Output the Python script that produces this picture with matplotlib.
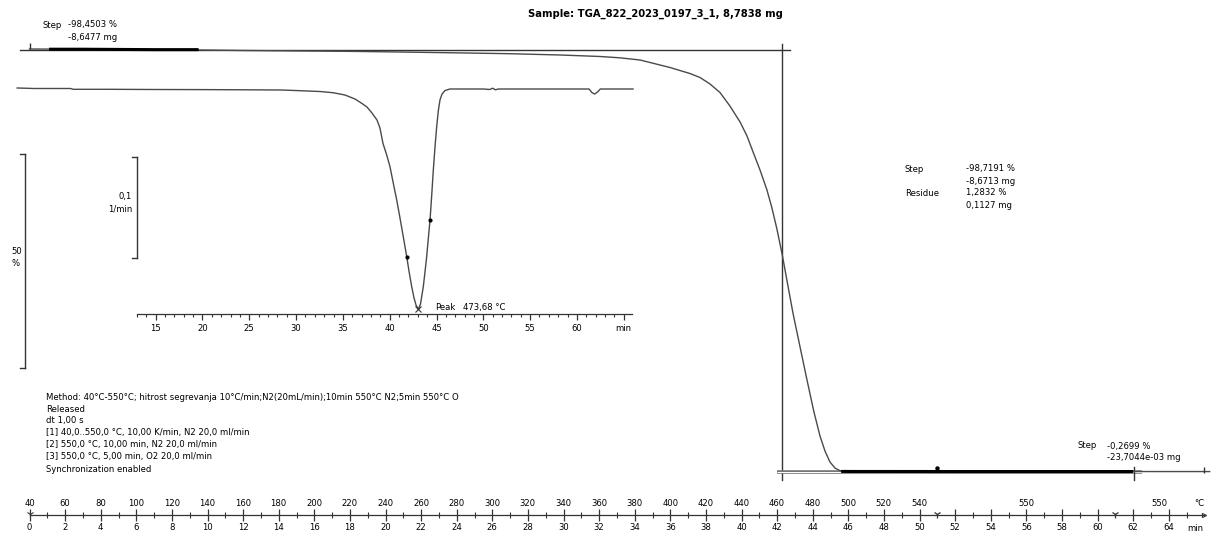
import matplotlib
matplotlib.use("Agg")
import matplotlib.pyplot as plt
from matplotlib.ticker import FixedLocator, FixedFormatter

W, H = 1216, 536

# ---------------- data ----------------
tga_time = [0.0, 1.0, 3.0, 5.0, 7.0, 9.6, 12.0, 15.0, 18.0, 20.8, 24.0, 27.0, 29.8,
            32.05, 33.17, 34.30, 34.86, 35.42, 35.98, 36.54, 37.10, 37.67, 38.23, 38.79,
            39.35, 39.92, 40.31, 40.65, 41.04, 41.43, 41.71, 41.99, 42.28, 42.56, 42.89,
            43.29, 43.68, 44.07, 44.41, 44.69, 44.97, 45.25, 45.53, 45.81, 46.3, 48.0,
            52.0, 56.0, 60.0, 64.0, 66.3]
tga_mass = [100.0, 99.98, 99.95, 99.9, 99.85, 99.77, 99.65, 99.55, 99.45, 99.3, 99.1,
            98.9, 98.6, 98.25, 97.94, 97.43, 96.85, 96.26, 95.68, 94.98, 94.28, 93.34,
            91.82, 89.84, 86.68, 82.94, 79.67, 75.93, 71.73, 67.06, 62.85, 57.94, 52.10,
            45.79, 38.32, 30.37, 22.66, 15.19, 9.58, 6.07, 3.50, 2.10, 1.47, 1.30, 1.29,
            1.29, 1.28, 1.28, 1.28, 1.27, 1.27]

dtg_time = [0.2, 2.0, 5.9, 6.2, 10.0, 15.0, 20.0, 25.0, 28.5, 30.42, 32.55, 33.94,
            35.22, 36.29, 37.04, 37.57, 38.11, 38.64, 38.96, 39.28, 39.68, 40.03, 40.38,
            40.75, 41.10, 41.45, 41.82, 42.06, 42.35, 42.60, 42.81, 43.06, 43.29, 43.59,
            43.77, 43.95, 44.12, 44.31, 44.49, 44.66, 44.84, 45.02, 45.19, 45.37, 45.59,
            45.91, 46.44, 50.0, 50.7, 51.0, 51.3, 51.6, 55.0, 58.0, 61.3, 61.6, 61.9,
            62.2, 62.5, 66.0]
dtg_rate = [0.001, 0.0005, 0.0005, -0.0003, -0.0003, -0.0005, -0.0006, -0.0008, -0.001,
            -0.00168, -0.00248, -0.00366, -0.00594, -0.0099, -0.01436, -0.01782, -0.0238,
            -0.0307, -0.0386, -0.0538, -0.0653, -0.0769, -0.0931, -0.1099, -0.1277,
            -0.1462, -0.1661, -0.1802, -0.1957, -0.2069, -0.2139, -0.2181, -0.2129,
            -0.1957, -0.1812, -0.1661, -0.1485, -0.1297, -0.1050, -0.0802, -0.0574,
            -0.0373, -0.0218, -0.0109, -0.0050, -0.0015, 0.0, 0.0, -0.0005, 0.0008,
            -0.0008, 0.0, 0.0, 0.0, 0.0, -0.0035, -0.005, -0.003, 0.0, 0.0]

dtg_mark_time = [41.82, 44.31]
dtg_mark_rate = [-0.1661, -0.1297]
peak_time, peak_rate = 43.06, -0.2181

step1_range = [1.1, 9.5]
step2_range = [45.6, 62.0]
step1_level = 99.77
residue_level = 1.28
eval_time = 42.26
step2_end = 62.05
segment_marks = [51.0, 61.0]

time_ticks = [0, 2, 4, 6, 8, 10, 12, 14, 16, 18, 20, 22, 24, 26, 28, 30, 32, 34, 36,
              38, 40, 42, 44, 46, 48, 50, 52, 54, 56, 58, 60, 62, 64]
time_labels = [str(t) for t in time_ticks]
temp_ticks = [0, 2, 4, 6, 8, 10, 12, 14, 16, 18, 20, 22, 24, 26, 28, 30, 32, 34, 36,
              38, 40, 42, 44, 46, 48, 50, 56, 63.5]
temp_labels = ["40", "60", "80", "100", "120", "140", "160", "180", "200", "220", "240",
               "260", "280", "300", "320", "340", "360", "380", "400", "420", "440",
               "460", "480", "500", "520", "540", "550", "550"]
inset_ticks = [15, 20, 25, 30, 35, 40, 45, 50, 55, 60, 65]
inset_labels = ["15", "20", "25", "30", "35", "40", "45", "50", "55", "60", "min"]

method_lines = [
    "Method: 40°C-550°C; hitrost segrevanja 10°C/min;N2(20mL/min);10min 550°C N2;5min 550°C O",
    "Released",
    "dt 1,00 s",
    "[1] 40,0..550,0 °C, 10,00 K/min, N2 20,0 ml/min",
    "[2] 550,0 °C, 10,00 min, N2 20,0 ml/min",
    "[3] 550,0 °C, 5,00 min, O2 20,0 ml/min",
    "Synchronization enabled",
]

# ---------------- layout ----------------
FS = 6.1
CURVE = "#4a4a4a"
LINE = "#333333"
plt.rcParams["font.family"] = ["DejaVu Sans"]

fig = plt.figure(figsize=(W / 100, H / 100), dpi=100)
fig.patch.set_facecolor("white")


def fx(px):
    return px / W


def fy(py):
    return 1 - py / H


def ftext(px, py, s, **kw):
    kw.setdefault("fontsize", FS)
    kw.setdefault("va", "center")
    fig.text(fx(px), fy(py), s, **kw)


# main TGA axes: px = 29.5 + 17.8 t ; py = 49 + (100 - p) * 4.28
ax = fig.add_axes([0, 0, 1, 1])
ax.patch.set_alpha(0)
ax.set_xlim((0 - 29.5) / 17.8, (W - 29.5) / 17.8)
ax.set_ylim(100 - (H - 49) / 4.28, 100 + 49 / 4.28)
for s in ["top", "left", "right"]:
    ax.spines[s].set_visible(False)
ax.spines["bottom"].set_position(("axes", fy(515)))
ax.spines["bottom"].set_bounds(0, 66.0)
ax.spines["bottom"].set_color(LINE)
ax.spines["bottom"].set_linewidth(0.9)
ax.yaxis.set_visible(False)
ax.xaxis.set_major_locator(FixedLocator(time_ticks))
ax.xaxis.set_major_formatter(FixedFormatter(time_labels))
ax.xaxis.set_minor_locator(FixedLocator([t + 1 for t in time_ticks if t + 1 not in segment_marks]))
ax.tick_params(axis="x", which="major", direction="inout", length=8, width=0.9,
               color=LINE, labelsize=FS, pad=1.5)
ax.tick_params(axis="x", which="minor", direction="inout", length=5, width=0.8, color=LINE)

# temperature labels above the axis
ax_tr = ax.get_xaxis_transform()
for t, lab in zip(temp_ticks, temp_labels):
    ax.text(t, fy(504), lab, transform=ax_tr, fontsize=FS, ha="center", va="center")
ax.text(65.7, fy(504), "°C", transform=ax_tr, fontsize=FS, ha="center", va="center")
ax.text(65.5, fy(528.5), "min", transform=ax_tr, fontsize=FS, ha="center", va="center")
ax.plot(segment_marks, [fy(514)] * len(segment_marks), transform=ax_tr, ls="none",
        marker="1", ms=6, mew=0.9, color=LINE)
ax.plot([0], [fy(514)], transform=ax_tr, ls="none", marker="1", ms=5, mew=0.8, color=LINE)
ax.plot([66.0], [fy(515)], transform=ax_tr, ls="none", marker=">", ms=3, mfc="none",
        mew=0.8, color=LINE)

# step evaluation lines
ax.plot([-0.53, 42.7], [step1_level, step1_level], color=LINE, lw=1.0)
ax.plot([eval_time, eval_time], [101.2, -0.7], color=LINE, lw=1.0)
ax.plot([42.0, 62.5], [residue_level, residue_level], color="#777777", lw=2.6,
        solid_capstyle="butt")
ax.plot([42.0, 62.5], [residue_level, residue_level], color="white", lw=0.7,
        solid_capstyle="butt")
ax.plot([step2_end, step2_end], [2.4, -0.7], color=LINE, lw=1.0)

# TGA curve
ax.plot(tga_time, tga_mass, color=CURVE, lw=1.0, solid_joinstyle="round")
for lo, hi in (step1_range, step2_range):
    sel_t = [t for t in tga_time if lo <= t <= hi]
    sel_m = [m for t, m in zip(tga_time, tga_mass) if lo <= t <= hi]
    sel_t = [lo] + sel_t + [hi]
    sel_m = [sel_m[0]] + sel_m + [sel_m[-1]]
    ax.plot(sel_t, sel_m, color="black", lw=2.2, solid_capstyle="butt")
ax.plot([0], [100.6], marker="|", ms=5, color=LINE)
ax.plot([51.0], [2.0], marker="o", ms=2.2, color="black")
ax.plot([66.0], [1.6], marker="|", ms=4, color=LINE)

# 50 % scale bar
ax.plot([-0.25, -0.25], [75.5, 25.5], color=LINE, lw=1.0)
for p in (75.5, 25.5):
    ax.plot([-0.53, -0.25], [p, p], color=LINE, lw=1.0)

# ---------------- DTG inset: px = 155.7 + 9.36 (t - 15) ; py = 89 - v * 1010
ai = fig.add_axes([0, 0, 1, 1])
ai.patch.set_alpha(0)
ai.set_xlim(15 - 155.7 / 9.36, 15 + (W - 155.7) / 9.36)
ai.set_ylim((89 - H) / 1010, 89 / 1010)
for s in ["top", "left", "right"]:
    ai.spines[s].set_visible(False)
ai.yaxis.set_visible(False)
ai.spines["bottom"].set_position(("axes", fy(314)))
ai.spines["bottom"].set_bounds(13, 65.9)
ai.spines["bottom"].set_color(LINE)
ai.spines["bottom"].set_linewidth(0.9)
ai.xaxis.set_major_locator(FixedLocator(inset_ticks))
ai.xaxis.set_major_formatter(FixedFormatter(inset_labels))
ai.xaxis.set_minor_locator(FixedLocator([t for t in range(13, 66) if t % 5 != 0]))
ai.tick_params(axis="x", which="major", direction="out", length=4, width=0.9,
               color=LINE, labelsize=FS, pad=3)
ai.tick_params(axis="x", which="minor", direction="out", length=2.5, width=0.8, color=LINE)

ai.plot(dtg_time, dtg_rate, color=CURVE, lw=1.0, solid_joinstyle="round")
ai.plot(dtg_mark_time, dtg_mark_rate, ls="none", marker="o", ms=2.0, color="black")
ai.plot([peak_time], [peak_rate], ls="none", marker="x", ms=4, mew=0.8, color=LINE)
ai.text(peak_time + 1.78, peak_rate + 0.0015, "Peak", fontsize=FS, ha="left", va="center")
ai.text(peak_time + 4.77, peak_rate + 0.0015, "473,68 °C", fontsize=FS, ha="left", va="center")

# 0,1 1/min scale bar
ai.plot([13.0, 13.0], [-0.0673, -0.1673], color=LINE, lw=1.0)
for v in (-0.0673, -0.1673):
    ai.plot([12.45, 13.0], [v, v], color=LINE, lw=1.0)

# ---------------- texts ----------------
ftext(655, 14, "Sample: TGA_822_2023_0197_3_1, 8,7838 mg", ha="center", fontweight="bold",
      fontsize=7.2)
ftext(42, 25, "Step")
ftext(68, 25, "-98,4503 %")
ftext(68, 37, "-8,6477 mg")

ftext(905, 169, "Step")
ftext(966, 169, "-98,7191 %")
ftext(966, 181, "-8,6713 mg")
ftext(905, 193, "Residue")
ftext(966, 193, "1,2832 %")
ftext(966, 205, "0,1127 mg")

ftext(1078, 446, "Step")
ftext(1107, 446, "-0,2699 %")
ftext(1107, 458, "-23,7044e-03 mg")

ftext(11, 252, "50")
ftext(11, 264, "%")
ftext(132, 197, "0,1", ha="right")
ftext(132, 209, "1/min", ha="right")

for i, line in enumerate(method_lines):
    ftext(46, 397 + 12 * i, line)

fig.savefig("out.png", dpi=100, facecolor="white")
